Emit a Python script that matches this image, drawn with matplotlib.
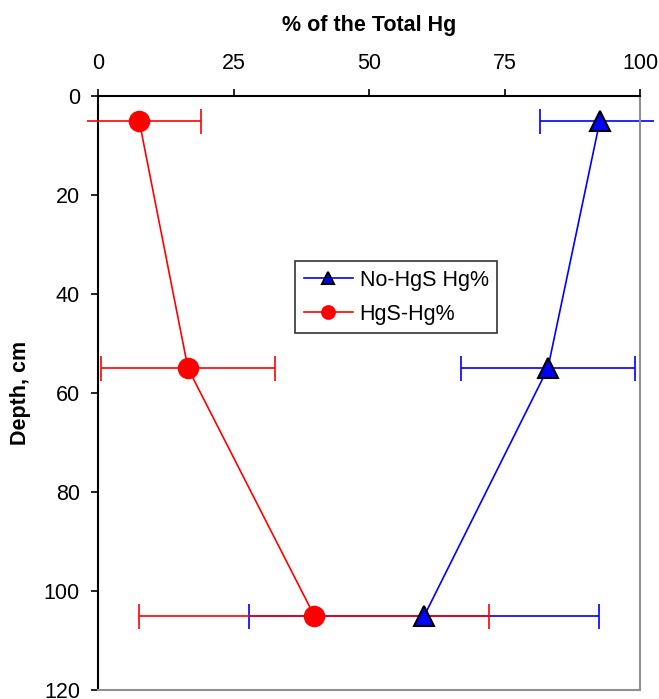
import matplotlib
matplotlib.use("Agg")
import matplotlib.pyplot as plt
from matplotlib.patches import Rectangle

plt.rcParams["font.family"] = ["Liberation Sans", "DejaVu Sans"]

# depth profile of mercury speciation
depth = [5, 55, 105]
no_hgs = [92.6, 83.0, 60.2]
no_hgs_err = [11.0, 16.0, 32.3]
hgs = [7.6, 16.6, 39.9]
hgs_err = [11.4, 16.1, 32.3]

fig = plt.figure(figsize=(6.59, 6.99), dpi=100)
ax = fig.add_axes([0.1487, 0.0129, 0.8225, 0.8498])

# error bars may run past the plot frame a little, like the spreadsheet original
clip = Rectangle((-2.0, -20), 104.6, 160, transform=ax.transData)

series = [
    (no_hgs, no_hgs_err, "#0000FF", "^", 14, "black", "No-HgS Hg%"),
    (hgs, hgs_err, "#FF0000", "o", 14, "#FF0000", "HgS-Hg%"),
]
for i, (vals, err, col, mk, ms, ec, lab) in enumerate(series):
    eb = ax.errorbar(vals, depth, xerr=err, fmt="none", ecolor=col,
                     elinewidth=1.2, capsize=9, capthick=1.2, zorder=2 + i)
    for art in list(eb.lines[1]) + list(eb.lines[2]):
        art.set_clip_path(clip)
    ax.plot(vals, depth, color=col, lw=1.2, marker=mk, markersize=ms,
            markerfacecolor=col, markeredgecolor=ec, markeredgewidth=1.5,
            label=lab, zorder=4 + i)

ax.set_xlim(0, 100)
ax.set_ylim(120, 0)
ax.set_xticks([0, 25, 50, 75, 100])
ax.set_yticks(range(0, 121, 20))
ax.xaxis.tick_top()
ax.xaxis.set_label_position("top")
ax.tick_params(axis="both", direction="out", length=5, width=1.2,
               labelsize=15.5)
ax.tick_params(axis="x", pad=11)
ax.tick_params(axis="y", pad=8)

ax.spines["left"].set_color("black")
ax.spines["top"].set_color("black")
ax.spines["right"].set_color("#909090")
ax.spines["bottom"].set_color("#909090")
for s in ax.spines.values():
    s.set_linewidth(1.5)

ax.set_xlabel("% of the Total Hg", fontsize=15.5, fontweight="bold", labelpad=16)
ax.set_ylabel("Depth, cm", fontsize=15.5, fontweight="bold", labelpad=9)

leg = ax.legend(loc="upper left", bbox_to_anchor=(0.3635, 0.722), fontsize=15.5,
                frameon=True, fancybox=False, edgecolor="black",
                markerscale=0.65, handlelength=2.3, handletextpad=0.3,
                borderpad=0.4, borderaxespad=0, labelspacing=0.6)
leg.get_frame().set_linewidth(1.2)

fig.savefig("out.png", dpi=100)
